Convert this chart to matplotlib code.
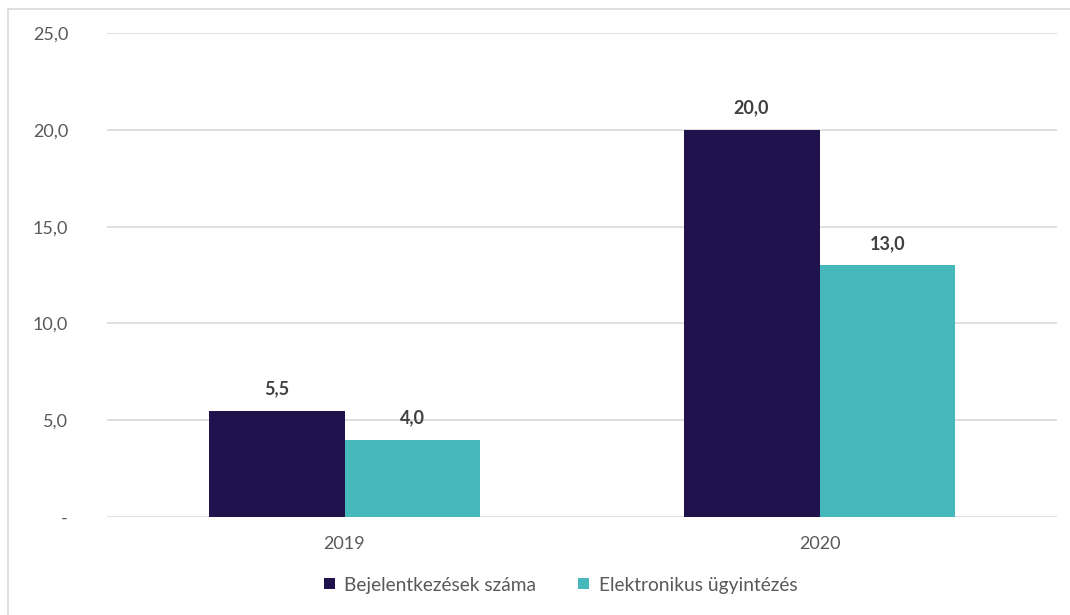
import numpy as np
import matplotlib.pyplot as plt
from matplotlib.patches import Rectangle

plt.rcParams['font.family'] = ['Lato', 'DejaVu Sans']

years = ['2019', '2020']
bejelentkezesek = [5.5, 20.0]
elektronikus = [4.0, 13.0]
series_names = ['Bejelentkezések száma', 'Elektronikus ügyintézés']
colors = ['#20124D', '#46B8BC']

fig = plt.figure(figsize=(10.7, 6.15), dpi=100)
ax = fig.add_axes([0.1, 0.1593, 0.8879, 0.787])

# light frame around the chart area (right/bottom cut off like in the source)
fig.patches.append(Rectangle((8 / 1070, -0.05), 1.1, 1 - 9 / 615 + 0.05,
                             transform=fig.transFigure, fill=False,
                             edgecolor='#D9D9D9', linewidth=1.2))

x = np.arange(len(years))
w = 0.286
b1 = ax.bar(x - w / 2, bejelentkezesek, w, color=colors[0], label=series_names[0], zorder=3)
b2 = ax.bar(x + w / 2, elektronikus, w, color=colors[1], label=series_names[1], zorder=3)

for bars in (b1, b2):
    for r in bars:
        ax.text(r.get_x() + r.get_width() / 2, r.get_height() + 0.7,
                f'{r.get_height():.1f}'.replace('.', ','),
                ha='center', va='bottom', fontsize=13, fontweight='bold',
                color='#404040', zorder=4)

ax.set_xlim(-0.5, 1.5)
ax.set_ylim(0, 25)
yt = [0, 5, 10, 15, 20, 25]
ax.set_yticks(yt)
ax.set_yticklabels(['-'] + [f'{v:.1f}'.replace('.', ',') for v in yt[1:]])
ax.set_xticks(x)
ax.set_xticklabels(years)
ax.tick_params(axis='y', length=0, pad=28, labelsize=13, labelcolor='#595959')
ax.tick_params(axis='x', length=0, pad=14, labelsize=13, labelcolor='#595959')
for lbl in ax.get_yticklabels():
    lbl.set_horizontalalignment('right')

ax.grid(axis='y', color='#D9D9D9', linewidth=1.2, zorder=0)
for s in ax.spines.values():
    s.set_visible(False)

fig.legend(loc='center', bbox_to_anchor=(0.524, 1 - 585 / 615), ncol=2, frameon=False,
           fontsize=13.8, labelcolor='#595959', handlelength=0.55, handleheight=0.55,
           handletextpad=0.5, columnspacing=2.2)

fig.savefig('out.png', dpi=100)
